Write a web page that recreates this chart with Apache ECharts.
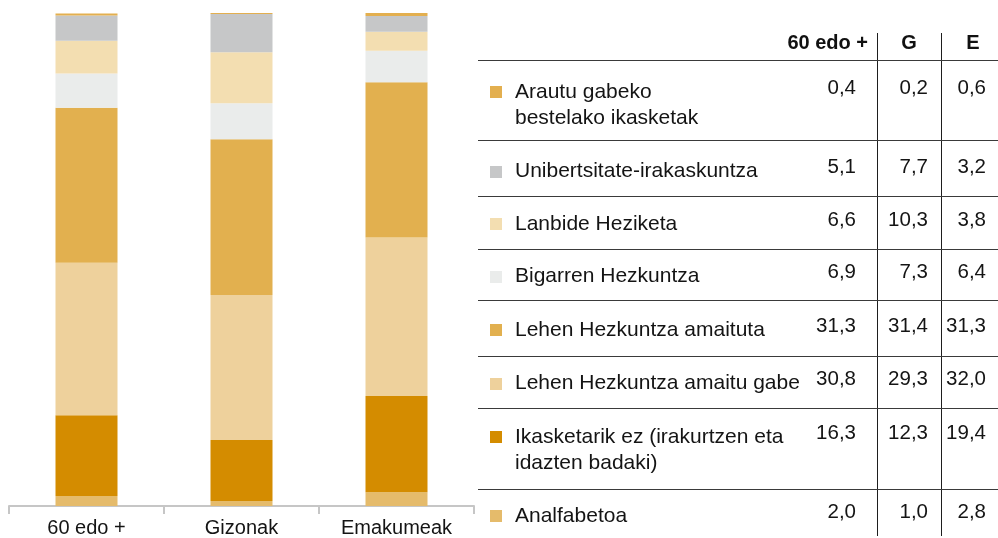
<!DOCTYPE html>
<html>
<head>
<meta charset="utf-8">
<script src="https://cdn.jsdelivr.net/npm/echarts@6/dist/echarts.min.js"></script>
<style>
  html, body { margin: 0; padding: 0; background: #fff; }
  #chart { width: 998px; height: 538px; }
</style>
</head>
<body>
<div id="chart"></div>
<script>
// kategoriak eta zutabeak
const categories = ['60 edo +', 'Gizonak', 'Emakumeak'];
const columns = ['60 edo +', 'G', 'E'];

// ikasketa mailak (taulako ordena, goitik behera)
const levels = [
  'Arautu gabeko\nbestelako ikasketak',
  'Unibertsitate-irakaskuntza',
  'Lanbide Heziketa',
  'Bigarren Hezkuntza',
  'Lehen Hezkuntza amaituta',
  'Lehen Hezkuntza amaitu gabe',
  'Ikasketarik ez (irakurtzen eta\nidazten badaki)',
  'Analfabetoa'
];

// balioak (%): 60 edo +, G, E
const arautu = [0.4, 0.2, 0.6];
const unibertsitate = [5.1, 7.7, 3.2];
const lanbide = [6.6, 10.3, 3.8];
const bigarren = [6.9, 7.3, 6.4];
const lehenAmaituta = [31.3, 31.4, 31.3];
const lehenGabe = [30.8, 29.3, 32.0];
const ikasketarikEz = [16.3, 12.3, 19.4];
const analfabetoa = [2.0, 1.0, 2.8];

const values = [arautu, unibertsitate, lanbide, bigarren, lehenAmaituta, lehenGabe, ikasketarikEz, analfabetoa];
const colors = ['#e3af4f', '#c6c7c8', '#f3deb1', '#eaeceb', '#e2b04f', '#eed19c', '#d48c00', '#e5bb6b'];

const FONT = '"Liberation Sans", Arial, Helvetica, sans-serif';
const TEXT = '#141414';

// taularen kokapena
const rowLines = [59.5, 140, 196, 249, 300, 355.5, 407.5, 488.5];
const labelY = [92, 171.5, 224, 276.5, 330, 383.5, 437, 516];
const valueX = [856, 928, 986];
const colLines = [877, 941];

const fmt = v => v.toFixed(1).replace('.', ',');

// barrak: behekoa lehenengo pilatzen da
const series = [];
for (let i = levels.length - 1; i >= 0; i--) {
  series.push({
    name: levels[i],
    type: 'bar',
    stack: 'total',
    barWidth: 62,
    data: values[i],
    itemStyle: { color: colors[i] },
    emphasis: { disabled: true }
  });
}

// taula
const graphic = [];
const headFont = 'bold 20px "Liberation Sans Narrow", ' + FONT;
graphic.push({ type: 'text', style: { text: columns[0], x: 868, y: 43, align: 'right', verticalAlign: 'middle', font: headFont, fill: '#111' } });
graphic.push({ type: 'text', style: { text: columns[1], x: 909, y: 43, align: 'center', verticalAlign: 'middle', font: headFont, fill: '#111' } });
graphic.push({ type: 'text', style: { text: columns[2], x: 973, y: 43, align: 'center', verticalAlign: 'middle', font: headFont, fill: '#111' } });
colLines.forEach(x => {
  graphic.push({ type: 'line', shape: { x1: x + 0.5, y1: 33, x2: x + 0.5, y2: 536 },
    style: { stroke: '#1e1e1e', lineWidth: 1 } });
});
rowLines.forEach(y => {
  graphic.push({ type: 'line', shape: { x1: 478, y1: Math.round(y) + 0.5, x2: 998, y2: Math.round(y) + 0.5 },
    style: { stroke: '#3a3a3a', lineWidth: 1 } });
});
levels.forEach((name, i) => {
  const y = labelY[i];
  graphic.push({ type: 'rect', shape: { x: 490, y: Math.round(y) - 6, width: 12, height: 12 },
    style: { fill: colors[i] } });
  graphic.push({ type: 'text', style: { text: name, x: 515, y: y - 13.25, align: 'left', verticalAlign: 'top',
    lineHeight: 26.5, font: '21px ' + FONT, fill: TEXT } });
  values[i].forEach((v, j) => {
    graphic.push({ type: 'text', style: { text: fmt(v), x: valueX[j], y: y - 4, align: 'right',
      verticalAlign: 'middle', font: '20.5px ' + FONT, fill: TEXT } });
  });
});

const chart = echarts.init(document.getElementById('chart'));
chart.setOption({
  animation: false,
  backgroundColor: '#fff',
  grid: { left: 9, right: 524, top: 13, bottom: 31.5, containLabel: false },
  xAxis: {
    type: 'category',
    data: categories,
    axisLine: { lineStyle: { color: '#c6c6c6', width: 2 } },
    axisTick: { show: true, length: 8, lineStyle: { color: '#c6c6c6', width: 2 } },
    axisLabel: { color: TEXT, fontSize: 20, fontFamily: FONT, margin: 12 }
  },
  yAxis: {
    type: 'value', min: 0, max: 99.5, show: false,
    splitLine: { show: false }
  },
  series: series,
  graphic: graphic
});
</script>
</body>
</html>
